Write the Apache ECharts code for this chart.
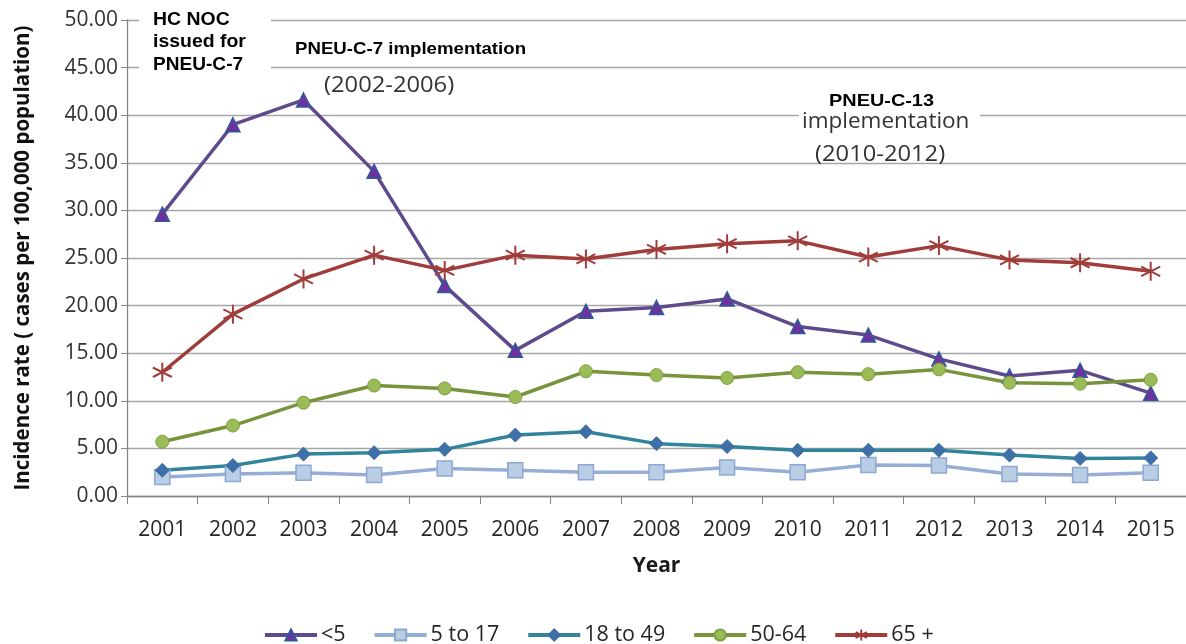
<!DOCTYPE html>
<html>
<head>
<meta charset="utf-8">
<script src="https://cdn.jsdelivr.net/npm/echarts@6/dist/echarts.min.js"></script>
<style>
html,body{margin:0;padding:0;background:#fff;}
#chart{width:1186px;height:644px;}
</style>
</head>
<body>
<div id="chart"></div>
<script>
const years = ['2001','2002','2003','2004','2005','2006','2007','2008','2009','2010','2011','2012','2013','2014','2015'];
const under5   = [29.6, 39.0, 41.6, 34.1, 22.1, 15.3, 19.4, 19.8, 20.7, 17.8, 16.9, 14.4, 12.6, 13.2, 10.8];
const age5to17 = [2.0, 2.3, 2.45, 2.2, 2.9, 2.7, 2.5, 2.5, 3.0, 2.5, 3.25, 3.2, 2.3, 2.2, 2.45];
const age18to49 = [2.7, 3.2, 4.4, 4.55, 4.9, 6.4, 6.75, 5.5, 5.2, 4.8, 4.8, 4.8, 4.3, 3.95, 4.0];
const age50to64 = [5.7, 7.4, 9.8, 11.6, 11.3, 10.4, 13.1, 12.7, 12.4, 13.0, 12.8, 13.3, 11.9, 11.8, 12.2];
const age65plus = [13.0, 19.1, 22.8, 25.3, 23.7, 25.3, 24.9, 25.9, 26.5, 26.8, 25.1, 26.3, 24.8, 24.5, 23.6];
const seriesNames = ['<5', '5 to 17', '18 to 49', '50-64', '65 +'];
const yTicks = {min: 0, max: 50, interval: 5};

const chart = echarts.init(document.getElementById('chart'));
const labelFont = '"Open Sans", "Liberation Sans", sans-serif';
const boldFont = '"Liberation Sans", Arial, sans-serif';
const asterisk = 'path://M10,0L10,20M1.3,5L18.7,15M1.3,15L18.7,5';

function mk(name, data, lineColor, symbol, size, fill, border, bw) {
  return {
    name: name, type: 'line', data: data,
    symbol: symbol, symbolSize: size,
    lineStyle: {color: lineColor, width: 3.5},
    itemStyle: {color: fill, borderColor: border, borderWidth: bw},
    emphasis: {disabled: true},
    animation: false
  };
}

const series = [
  mk(seriesNames[0], under5, '#5F4A8B', 'triangle', 14, '#7030A0', '#2F5A9A', 1.5),
  mk(seriesNames[1], age5to17, '#95AED6', 'rect', 15, '#B9CDE5', '#8EA8D2', 1.5),
  mk(seriesNames[2], age18to49, '#31849B', 'diamond', 14, '#3E6FA6', '#3E6FA6', 1),
  mk(seriesNames[3], age50to64, '#77933C', 'circle', 13, '#9BBB59', '#7FA03F', 1),
  mk(seriesNames[4], age65plus, '#A03C3A', asterisk, 19, 'none', '#A03C3A', 2)
];

function txt(x, y, text, font, scaleX, fill) {
  return {type: 'text', z: 101, x: x, y: y, scaleX: scaleX,
    style: {text: text, font: font, fill: fill, verticalAlign: 'middle', align: 'left'}};
}

const option = {
  backgroundColor: '#fff',
  animation: false,
  grid: {left: 127, top: 20, width: 1061, height: 476, containLabel: false},
  xAxis: {
    type: 'category', data: years, boundaryGap: true,
    name: 'Year', nameLocation: 'middle', nameGap: 60,
    nameTextStyle: {fontFamily: labelFont, fontWeight: 'bold', fontSize: 21, color: '#1a1a1a'},
    axisLine: {lineStyle: {color: '#868686', width: 1.3}},
    axisTick: {show: true, alignWithLabel: false, length: 8, lineStyle: {color: '#868686'}},
    axisLabel: {fontFamily: labelFont, fontSize: 21, color: '#262626', margin: 24}
  },
  yAxis: {
    type: 'value', min: yTicks.min, max: yTicks.max, interval: yTicks.interval,
    name: 'Incidence rate ( cases per 100,000 population)',
    nameLocation: 'middle', nameGap: 93, nameRotate: 90,
    nameTextStyle: {fontFamily: labelFont, fontWeight: 'bold', fontSize: 20.5, color: '#111'},
    axisLine: {show: true, lineStyle: {color: '#868686', width: 1.3}},
    axisTick: {show: true, inside: false, length: 6, lineStyle: {color: '#868686'}},
    axisLabel: {fontFamily: labelFont, fontSize: 21, color: '#333', margin: 9,
      formatter: v => v.toFixed(2)},
    splitLine: {show: true, lineStyle: {color: '#A6A6A6', width: 1.3}}
  },
  legend: {
    top: 619, left: 258,
    itemWidth: 52, itemHeight: 14, itemGap: 27,
    lineStyle: {width: 4},
    textStyle: {fontFamily: labelFont, fontSize: 21.5, color: '#262626', padding: [0,0,0,-1]},
    data: seriesNames
  },
  series: series,
  graphic: [
    {type: 'rect', z: 100, shape: {x: 139, y: 0, width: 132, height: 78}, style: {fill: '#fff'}},
    txt(153, 20, 'HC NOC', 'bold 18px ' + boldFont, 1.08, '#000'),
    txt(153, 42, 'issued for', 'bold 18px ' + boldFont, 1.08, '#000'),
    txt(153, 65, 'PNEU-C-7', 'bold 18px ' + boldFont, 1.06, '#000'),
    txt(295, 49, 'PNEU-C-7 implementation', 'bold 16.5px ' + boldFont, 1.13, '#000'),
    txt(324, 86, '(2002-2006)', '21px ' + labelFont, 1.13, '#333'),
    {type: 'rect', z: 100, shape: {x: 799, y: 86, width: 181, height: 64}, style: {fill: '#fff'}},
    txt(829, 101, 'PNEU-C-13', 'bold 17px ' + boldFont, 1.17, '#000'),
    txt(802, 122, 'implementation', '22.5px ' + labelFont, 1.0, '#333'),
    txt(815, 155, '(2010-2012)', '21px ' + labelFont, 1.13, '#333')
  ]
};
chart.setOption(option);
</script>
</body>
</html>
